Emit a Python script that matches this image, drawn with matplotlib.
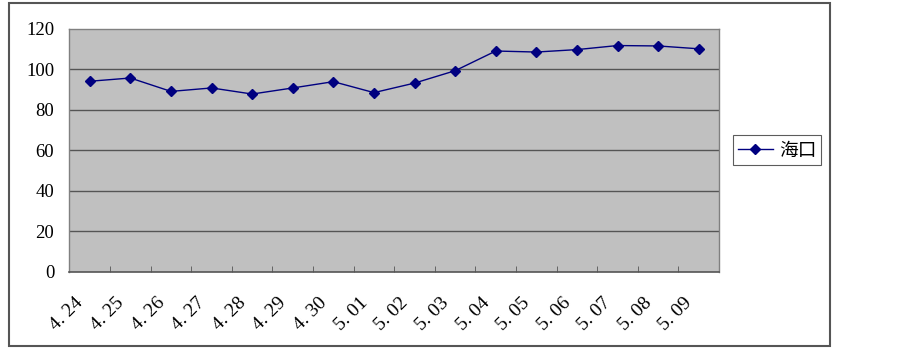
import matplotlib.pyplot as plt
from matplotlib.patches import Rectangle
from matplotlib.transforms import ScaledTranslation

dates = ['4. 24', '4. 25', '4. 26', '4. 27', '4. 28', '4. 29', '4. 30', '5. 01',
         '5. 02', '5. 03', '5. 04', '5. 05', '5. 06', '5. 07', '5. 08', '5. 09']
haikou = [94.0, 95.6, 89.0, 90.7, 87.7, 90.7, 93.8, 88.4,
          93.1, 99.2, 108.9, 108.4, 109.6, 111.6, 111.4, 110.0]
series_name = '海口'

W, H = 903, 349
fig = plt.figure(figsize=(W / 100, H / 100), dpi=100)
fig.patch.set_facecolor('white')

# outer chart frame
fig.patches.append(Rectangle((9 / W, 1 - 346 / H), (830 - 9) / W, (346 - 3) / H,
                             transform=fig.transFigure, fill=False,
                             edgecolor='#555555', linewidth=1.5))

ax = fig.add_axes([69.5 / W, 1 - 272 / H, (719 - 69.5) / W, (272 - 28.5) / H])
ax.set_facecolor('#c0c0c0')

x = range(len(dates))
line, = ax.plot(x, haikou, color='#000080', linewidth=1.0, marker='D',
                markersize=5.5, markerfacecolor='#000080', markeredgecolor='#000080',
                label=series_name, zorder=3)

ax.set_xlim(-0.5, len(dates) - 0.5)
ax.set_ylim(0, 120)
for v in range(20, 120, 20):
    ax.axhline(v, color='#555555', linewidth=1.0, zorder=1)

for s in ['top', 'right', 'left']:
    ax.spines[s].set_color('#808080')
    ax.spines[s].set_linewidth(1.0)
ax.spines['bottom'].set_color('#555555')
ax.spines['bottom'].set_linewidth(1.2)

serif = ['Liberation Serif', 'DejaVu Serif']
ax.set_yticks(range(0, 121, 20))
ax.set_yticklabels([str(v) for v in range(0, 121, 20)], family=serif, fontsize=13.5)
ax.tick_params(axis='y', length=0, pad=11)

ax.set_xticks([i + 0.5 for i in range(len(dates) - 1)], minor=True)
ax.set_xticks(list(x))
ax.set_xticklabels(dates, family=serif, fontsize=14, rotation=45,
                   ha='right', va='top', rotation_mode='anchor')
ax.tick_params(axis='x', which='major', length=0, pad=16)
ax.tick_params(axis='x', which='minor', length=4, direction='in', color='#555555')
shift = ScaledTranslation(-15 / 100, 0, fig.dpi_scale_trans)
for lab in ax.get_xticklabels():
    lab.set_transform(lab.get_transform() + shift)

leg = fig.legend(handles=[line], loc='center left',
                 bbox_to_anchor=(733 / W, 1 - 150 / H), frameon=True,
                 fancybox=False, handlelength=1.9, handletextpad=0.32,
                 borderpad=0.25, borderaxespad=0,
                 prop={'family': ['Noto Sans CJK SC', 'DejaVu Sans'], 'size': 13.5})
leg.get_frame().set_edgecolor('#333333')
leg.get_frame().set_linewidth(0.8)

fig.savefig('out.png', dpi=100)
